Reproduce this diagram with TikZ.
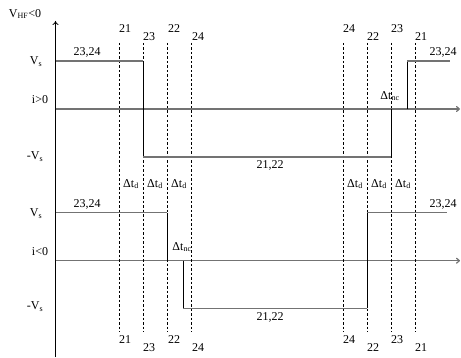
\documentclass[tikz,border=0pt]{standalone}
\usepackage{fontspec}
\setmainfont{Liberation Serif}
\usetikzlibrary{arrows.meta}
\begin{document}
\begin{tikzpicture}[x=1pt,y=1pt,
  lbl/.style={inner sep=0pt,font=\fontsize{12}{13}\selectfont},
  wave/.style={draw=black!55,line width=1.3pt},
  edge/.style={draw=black,line width=0.7pt},
  dline/.style={draw=black,dashed,dash pattern=on 2.5pt off 2pt,line width=0.6pt},
  ax/.style={draw=black!55,line width=1.2pt,-{To[length=4pt,width=6pt]}},
  yax/.style={draw=black,line width=0.8pt,-{To[length=4pt,width=6pt]}}]
\useasboundingbox (0,0) rectangle (461,357);
% axes
\coordinate (yb) at (55.5,0);
\coordinate (yt) at (55.5,336);
\draw[yax] (yb) -- (yt);
\coordinate (a1l) at (55.5,248);
\coordinate (a1r) at (460,248);
\draw[ax] (a1l) -- (a1r);
\coordinate (a2l) at (55.5,96.3);
\coordinate (a2r) at (460,96.3);
\draw[ax] (a2l) -- (a2r);
% dashed lines
\foreach \n/\x in {d1/119.5,d2/143.3,d3/167.3,d4/191.3,d5/343.3,d6/367,d7/391.3,d8/415.3}{
  \coordinate (\n t) at (\x,314);
  \coordinate (\n b) at (\x,25);
  \draw[dline] (\n t) -- (\n b);
}
% top waveform
\coordinate (p1) at (55.5,296);
\coordinate (p2) at (143.3,296);
\coordinate (p3) at (143.3,200);
\coordinate (p4) at (391.3,200);
\coordinate (p5) at (391.3,248);
\coordinate (p6) at (407,248);
\coordinate (p7) at (407,296);
\coordinate (p8) at (450,296);
\draw[wave] (p1) -- (p2);
\draw[edge] (p2) -- (p3);
\draw[wave] (p3) -- (p4);
\draw[edge] (p4) -- (p5);
\draw[edge] (p6) -- (p7);
\draw[wave] (p7) -- (p8);
% bottom waveform
\coordinate (q1) at (55.5,144.3);
\coordinate (q2) at (167.3,144.3);
\coordinate (q3) at (167.3,96.3);
\coordinate (q4) at (183.3,96.3);
\coordinate (q5) at (183.3,48.7);
\coordinate (q6) at (367,48.7);
\coordinate (q7) at (367,144.3);
\coordinate (q8) at (446.7,144.3);
\draw[wave] (q1) -- (q2);
\draw[edge] (q2) -- (q3);
\draw[edge] (q4) -- (q5);
\draw[wave] (q5) -- (q6);
\draw[edge] (q6) -- (q7);
\draw[wave] (q7) -- (q8);
% left labels
\node[lbl] (vhf) at (25,343) {V\textsubscript{HF}<0};
\node[lbl] (vs1) at (36,295) {V\textsubscript{s}};
\node[lbl] (ip) at (40,257) {i>0};
\node[lbl] (mvs1) at (35,200) {-V\textsubscript{s}};
\node[lbl] (vs2) at (36,143) {V\textsubscript{s}};
\node[lbl] (in) at (40,105) {i<0};
\node[lbl] (mvs2) at (35,50) {-V\textsubscript{s}};
% waveform labels
\node[lbl] (t1l) at (87,305) {23,24};
\node[lbl] (t1r) at (443,305) {23,24};
\node[lbl] (m1) at (270,192) {21,22};
\node[lbl] (t2l) at (87,153) {23,24};
\node[lbl] (t2r) at (443,153) {23,24};
\node[lbl] (m2) at (270,40) {21,22};
\node[lbl] (nc1) at (390,261) {Δt\textsubscript{nc}};
\node[lbl] (nc2) at (182,110) {Δt\textsubscript{nc}};
% dead-time labels
\foreach \n/\x in {e1/131,e2/155,e3/179,e4/355,e5/379,e6/403}{
  \node[lbl] (\n) at (\x,173) {Δt\textsubscript{d}};
}
% switch labels top
\node[lbl] (s1) at (125,328) {21};
\node[lbl] (s2) at (149,320) {23};
\node[lbl] (s3) at (174,328) {22};
\node[lbl] (s4) at (198,320) {24};
\node[lbl] (s5) at (349,328) {24};
\node[lbl] (s6) at (373,320) {22};
\node[lbl] (s7) at (397,328) {23};
\node[lbl] (s8) at (421,320) {21};
% switch labels bottom
\node[lbl] (b1) at (125,17) {21};
\node[lbl] (b2) at (149,9) {23};
\node[lbl] (b3) at (174,17) {22};
\node[lbl] (b4) at (198,9) {24};
\node[lbl] (b5) at (349,17) {24};
\node[lbl] (b6) at (373,9) {22};
\node[lbl] (b7) at (397,17) {23};
\node[lbl] (b8) at (421,9) {21};
\end{tikzpicture}
\end{document}
